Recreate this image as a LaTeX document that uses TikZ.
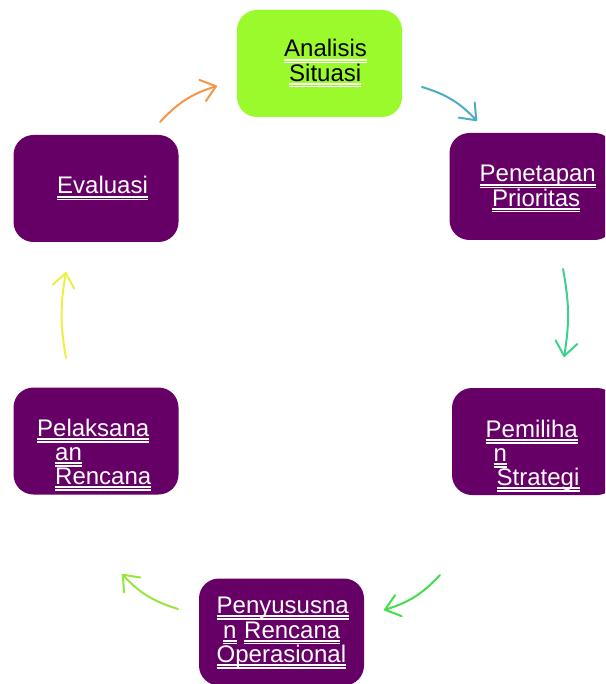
\documentclass[tikz,border=0pt]{standalone}
\usepackage{fontspec}
\setmainfont{Liberation Sans}
\usetikzlibrary{arrows.meta}

\definecolor{limebox}{RGB}{154,250,44}
\definecolor{plumbox}{RGB}{102,0,102}
\definecolor{cOrange}{RGB}{247,150,70}
\definecolor{cBlue}{RGB}{75,172,198}
\definecolor{cTeal}{RGB}{60,210,140}
\definecolor{cGreen}{RGB}{70,220,80}
\definecolor{cLeaf}{RGB}{150,230,60}
\definecolor{cYellow}{RGB}{235,240,70}

% one underlined line of text: name, x, baseline y, text colour, text
\newcommand\ulabel[5]{%
  \node[lbl,text=#4] (#1) at (#2,#3) {#5};
  \draw[ulthick] ([yshift=-2.8pt]#1.base west) -- ([yshift=-2.8pt]#1.base east);
  \draw[ulthin] ([yshift=-5.4pt]#1.base west) -- ([yshift=-5.4pt]#1.base east);}

\begin{document}
\begin{tikzpicture}[x=1pt,y=-1pt,
  box/.style={rounded corners=20pt, minimum width=165pt, minimum height=107pt, inner sep=0pt},
  lbl/.style={inner sep=0pt, anchor=base west, font=\fontsize{24}{24}\selectfont},
  ulthick/.style={white, line width=1.7pt},
  ulthin/.style={white, line width=1.2pt},
  cyc/.style={line width=2pt, line cap=round,
    -{Straight Barb[length=14pt,width=22pt,line cap=round,line join=round]}},
]
\useasboundingbox (0,0) rectangle (605,684);
\clip (0,0) rectangle (605,684);

% stage boxes
\node[box, fill=limebox] (analisis) at (319.5,63.5) {};
\node[box, fill=plumbox] (penetapan) at (532,186.5) {};
\node[box, fill=plumbox] (pemilihan) at (534.5,441.5) {};
\node[box, fill=plumbox] (penyusunan) at (281.5,632) {};
\node[box, fill=plumbox] (pelaksanaan) at (96,441) {};
\node[box, fill=plumbox] (evaluasi) at (96,188.5) {};

% labels
\ulabel{tAnalisis}{284}{57}{black}{Analisis}
\ulabel{tSituasi}{289}{81.5}{black}{Situasi}

\ulabel{tPenetapan}{479.5}{182}{white}{Penetapan}
\ulabel{tPrioritas}{492}{206.5}{white}{Prioritas}

\ulabel{tPemiliha}{485.5}{437.5}{white}{Pemiliha}
\ulabel{tPemN}{493.5}{461.5}{white}{n}
\ulabel{tStrategi}{496.5}{485.5}{white}{Strategi}

\ulabel{tPenyususna}{216.5}{613.5}{white}{Penyususna}
\ulabel{tPenyN}{223}{638}{white}{n}
\ulabel{tRencanaA}{244}{638}{white}{Rencana}
\ulabel{tOperasional}{216.5}{662.5}{white}{Operasional}

\ulabel{tPelaksana}{37}{436.5}{white}{Pelaksana}
\ulabel{tAn}{55}{460.5}{white}{an}
\ulabel{tRencanaB}{55}{484.5}{white}{Rencana}

\ulabel{tEvaluasi}{57}{194}{white}{Evaluasi}

% cycle arrows
\coordinate (o1) at (160,122);  \coordinate (o2) at (217,86);
\coordinate (b1) at (422,87);   \coordinate (b2) at (477,121);
\coordinate (t1) at (563,269);  \coordinate (t2) at (564,357);
\coordinate (g1) at (440,575);  \coordinate (g2) at (384,610);
\coordinate (l1) at (178,609);  \coordinate (l2) at (122,574);
\coordinate (y1) at (66,358);   \coordinate (y2) at (66,272);

\draw[cyc, cOrange] (o1) to[bend left=15] (o2);
\draw[cyc, cBlue] (b1) to[bend left=15] (b2);
\draw[cyc, cTeal] (t1) to[bend left=10] (t2);
\draw[cyc, cGreen] (g1) to[bend left=15] (g2);
\draw[cyc, cLeaf] (l1) to[bend left=15] (l2);
\draw[cyc, cYellow] (y1) to[bend left=10] (y2);
\end{tikzpicture}
\end{document}
